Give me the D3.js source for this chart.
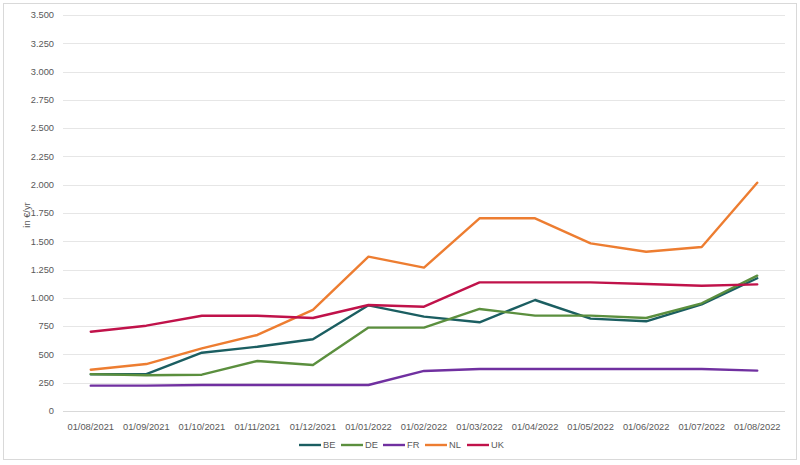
<!DOCTYPE html>
<html>
<head>
<meta charset="utf-8">
<script src="https://cdn.jsdelivr.net/npm/d3@7"></script>
<style>
  body { margin: 0; background: #fff; }
  text { font-family: "Liberation Sans", Arial, sans-serif; fill: #595959; }
</style>
</head>
<body>
<div id="chart"></div>
<script>
const width = 800;
const height = 465;

// data
const months = ["01/08/2021", "01/09/2021", "01/10/2021", "01/11/2021", "01/12/2021", "01/01/2022",
  "01/02/2022", "01/03/2022", "01/04/2022", "01/05/2022", "01/06/2022", "01/07/2022", "01/08/2022"];
const countries = ["BE", "DE", "FR", "NL", "UK"];
const be = [325, 325, 515, 568, 634, 934, 834, 784, 981, 816, 793, 943, 1173];
const de = [326, 316, 321, 442, 407, 737, 737, 902, 843, 843, 822, 952, 1196];
const fr = [224, 224, 230, 230, 230, 230, 354, 371, 371, 371, 371, 371, 357];
const nl = [365, 415, 554, 672, 893, 1364, 1267, 1703, 1703, 1482, 1408, 1449, 2018];
const uk = [701, 754, 842, 842, 822, 937, 922, 1137, 1137, 1137, 1122, 1107, 1119];
const yTicks = [0, 250, 500, 750, 1000, 1250, 1500, 1750, 2000, 2250, 2500, 2750, 3000, 3250, 3500];
const colors = ["#1b5e61", "#5b8f3e", "#7030a0", "#ed7d31", "#c0124a"];

const seriesList = [be, de, fr, nl, uk];

const svg = d3.select("#chart").append("svg")
  .attr("width", width)
  .attr("height", height);

// outer chart border
svg.append("rect")
  .attr("x", 3.5).attr("y", 3.5)
  .attr("width", 793).attr("height", 456)
  .attr("fill", "#fff")
  .attr("stroke", "#d9d9d9");

const x = d3.scaleBand().domain(months).range([63, 785]);
const y = d3.scaleLinear().domain([0, 3500]).range([411, 15]);

const fmt = v => d3.format(",")(v).replace(/,/g, ".");

// gridlines
svg.append("g")
  .selectAll("line")
  .data(yTicks)
  .enter().append("line")
  .attr("x1", 63).attr("x2", 785)
  .attr("y1", d => Math.round(y(d)) + 0.5)
  .attr("y2", d => Math.round(y(d)) + 0.5)
  .attr("stroke", d => d === 0 ? "#d9d9d9" : "#e6e6e6")
  .attr("stroke-width", 1);

// y labels
svg.append("g")
  .selectAll("text")
  .data(yTicks)
  .enter().append("text")
  .attr("x", 54)
  .attr("y", d => y(d))
  .attr("dy", "0.35em")
  .attr("text-anchor", "end")
  .style("font-size", "9.3px")
  .text(d => fmt(d));

// x labels
svg.append("g")
  .selectAll("text")
  .data(months)
  .enter().append("text")
  .attr("x", d => x(d) + x.bandwidth() / 2)
  .attr("y", 427)
  .attr("dy", "0.35em")
  .attr("text-anchor", "middle")
  .style("font-size", "9.3px")
  .text(d => d);

// y axis title
svg.append("text")
  .attr("transform", "translate(27,215) rotate(-90)")
  .attr("text-anchor", "middle")
  .attr("dy", "0.35em")
  .style("font-size", "9.3px")
  .text("in €/yr");

const line = d3.line()
  .x((d, i) => x(months[i]) + x.bandwidth() / 2)
  .y(d => y(d));

svg.append("g")
  .selectAll("path")
  .data(seriesList)
  .enter().append("path")
  .attr("d", line)
  .attr("fill", "none")
  .attr("stroke", (d, i) => colors[i])
  .attr("stroke-width", 2.4)
  .attr("stroke-linejoin", "round")
  .attr("stroke-linecap", "round");

// legend
const legend = svg.append("g")
  .selectAll("g")
  .data(countries)
  .enter().append("g")
  .attr("transform", (d, i) => `translate(${299 + i * 42},445)`);

legend.append("line")
  .attr("x1", 0).attr("x2", 22)
  .attr("stroke", (d, i) => colors[i])
  .attr("stroke-width", 2.4);

legend.append("text")
  .attr("x", 24)
  .attr("dy", "0.35em")
  .style("font-size", "9.3px")
  .text(d => d);
</script>
</body>
</html>
